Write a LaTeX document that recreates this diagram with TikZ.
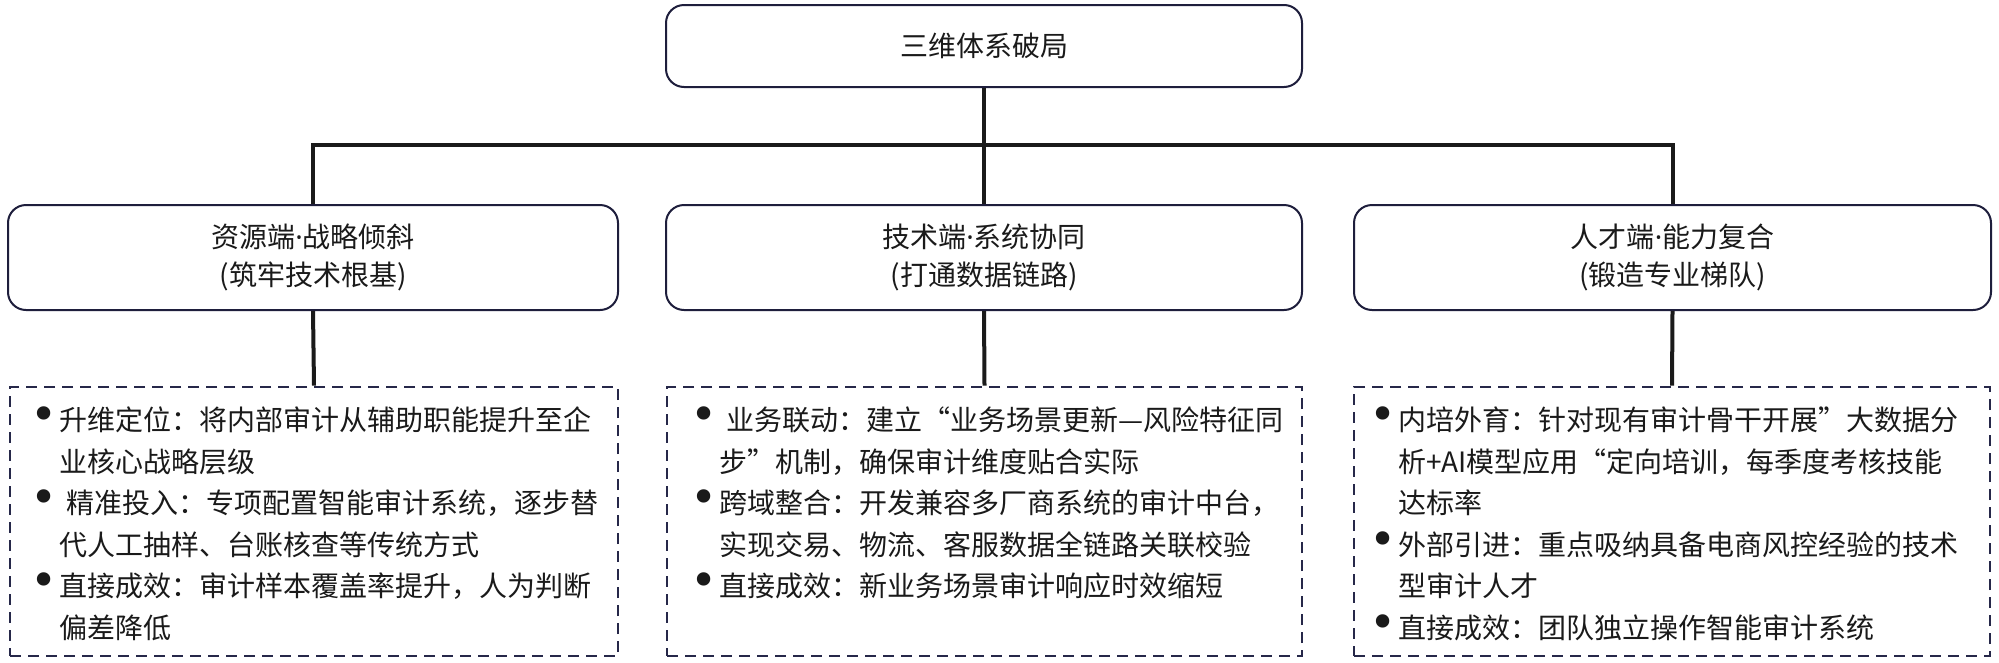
\documentclass[tikz,border=0pt]{standalone}
\usepackage{fontspec}
\setmainfont{Noto Sans CJK SC}
\newfontfamily\symf{DejaVu Sans}
\newfontfamily\latf{Noto Sans}
\definecolor{boxc}{HTML}{1E1E3C}
\definecolor{dashc}{HTML}{262849}
\definecolor{linec}{HTML}{1A1A1A}
\definecolor{txtc}{HTML}{1A1A1A}
\newcommand\mybul{\makebox[29pt][l]{\symf\fontsize{46}{46}\selectfont •}}
\newcommand\mdot{{\latf ·}}
\begin{document}
\begin{tikzpicture}[x=1pt,y=-1pt,
  box/.style={draw=boxc, line width=2pt, rounded corners=18pt, inner sep=0pt, fill=white},
  dbox/.style={draw=dashc, line width=2.8pt, dash pattern=on 11pt off 7pt, inner sep=0pt},
  conn/.style={draw=linec, line width=4pt, line join=miter},
  ttl/.style={font=\fontsize{28}{38}\selectfont, text=txtc, align=center},
  body/.style={font=\fontsize{28}{41.5}\selectfont, text=txtc, anchor=base west, inner sep=0pt},
]
\fill[white] (0,0) rectangle (1999,662);
\useasboundingbox (0,0) rectangle (1999,662);

% top
\node[box, ttl, minimum width=636pt, minimum height=82pt] (top) at (984,46) {三维体系破局};

% middle row
\node[box, ttl, minimum width=610pt, minimum height=105pt] (res) at (313,257.5) {资源端\mdot 战略倾斜\\(筑牢技术根基)};
\node[box, ttl, minimum width=636pt, minimum height=105pt] (tec) at (984,257.5) {技术端\mdot 系统协同\\(打通数据链路)};
\node[box, ttl, minimum width=637pt, minimum height=105pt] (tal) at (1672.5,257.5) {人才端\mdot 能力复合\\(锻造专业梯队)};

% dashed detail boxes
\node[dbox, minimum width=608pt, minimum height=269pt] (resd) at (314,521.5) {};
\node[dbox, minimum width=635pt, minimum height=269pt] (tecd) at (984.5,521.5) {};
\node[dbox, minimum width=636pt, minimum height=269pt] (tald) at (1672,521.5) {};

\node[body] (rest) at (30,430.5) {\begin{tabular}[t]{@{}l@{}l@{}}
\mybul & 升维定位：将内部审计从辅助职能提升至企\\
 & 业核心战略层级\\
\mybul & \hspace{7pt}精准投入：专项配置智能审计系统，逐步替\\
 & 代人工抽样、台账核查等传统方式\\
\mybul & 直接成效：审计样本覆盖率提升，人为判断\\
 & 偏差降低
\end{tabular}};

\node[body] (tect) at (690,430.5) {\begin{tabular}[t]{@{}l@{}l@{}}
\mybul & \hspace{7pt}业务联动：建立“业务场景更新—风险特征同\\
 & 步”机制，确保审计维度贴合实际\\
\mybul & 跨域整合：开发兼容多厂商系统的审计中台，\\
 & 实现交易、物流、客服数据全链路关联校验\\
\mybul & 直接成效：新业务场景审计响应时效缩短
\end{tabular}};

\node[body] (talt) at (1369,430.5) {\begin{tabular}[t]{@{}l@{}l@{}}
\mybul & 内培外育：针对现有审计骨干开展”大数据分\\
 & 析+AI模型应用“定向培训，每季度考核技能\\
 & 达标率\\
\mybul & 外部引进：重点吸纳具备电商风控经验的技术\\
 & 型审计人才\\
\mybul & 直接成效：团队独立操作智能审计系统
\end{tabular}};

% connectors
\coordinate (hub) at (984,145);
\draw[conn] (top.south) -- (hub);
\draw[conn] (res.north) -- (res.north |- hub) -- (tal.north |- hub) -- (tal.north);
\draw[conn] (hub) -- (tec.north);
\draw[conn] (res.south) -- (resd.north);
\draw[conn] (tec.south) -- (tecd.north);
\draw[conn] (tal.south) -- (tald.north);
\end{tikzpicture}
\end{document}
